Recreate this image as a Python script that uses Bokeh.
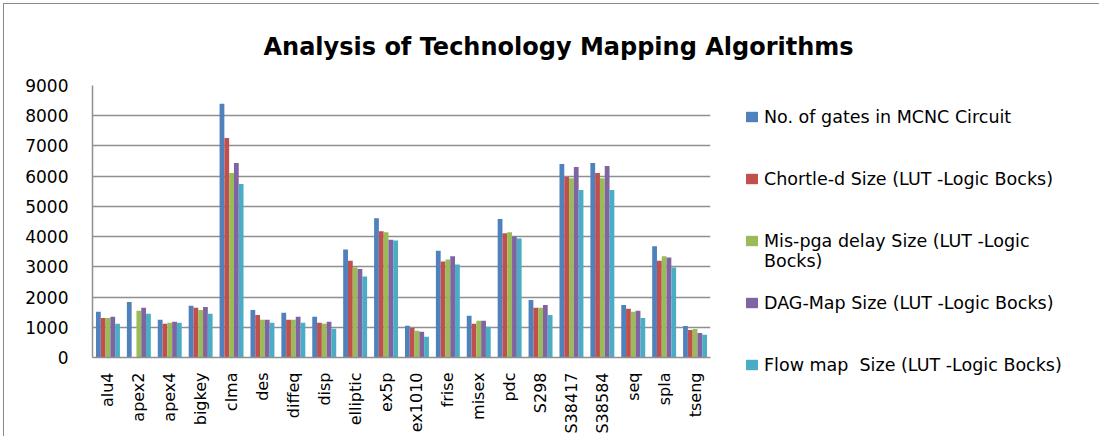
import math
from bokeh.plotting import figure
from bokeh.models import (FactorRange, ColumnDataSource, Legend, LegendItem,
                          FixedTicker, Range1d)
from bokeh.transform import dodge
from bokeh.embed import file_html
from bokeh.resources import INLINE

circuits = ["alu4", "apex2", "apex4", "bigkey", "clma", "des", "diffeq", "disp",
            "elliptic", "ex5p", "ex1010", "frise", "misex", "pdc", "S298",
            "S38417", "S38584", "seq", "spla", "tseng"]
gates = [1510, 1840, 1245, 1710, 8400, 1575, 1480, 1345, 3570, 4610,
         1050, 3535, 1380, 4585, 1905, 6405, 6435, 1740, 3680, 1045]
chortle = [1310, 0, 1115, 1645, 7265, 1410, 1245, 1150, 3205, 4180,
           980, 3175, 1115, 4110, 1645, 5975, 6105, 1610, 3205, 910]
mispga = [1310, 1545, 1150, 1575, 6105, 1245, 1245, 1115, 2990, 4145,
          885, 3240, 1215, 4145, 1645, 5930, 5930, 1510, 3350, 945]
dagmap = [1345, 1645, 1180, 1675, 6435, 1245, 1345, 1180, 2930, 3900,
          850, 3350, 1215, 4000, 1740, 6305, 6340, 1545, 3305, 810]
flowmap = [1115, 1445, 1150, 1445, 5740, 1150, 1150, 950, 2680, 3870,
           685, 3075, 1015, 3935, 1410, 5545, 5545, 1310, 2975, 755]

NB = "\u00a0"
series_names = [NB + "\nNo. of gates in MCNC Circuit\n" + NB,
                NB + "\nChortle-d Size (LUT -Logic Bocks)\n" + NB,
                NB + "\nMis-pga delay Size (LUT -Logic\nBocks)",
                NB + "\nDAG-Map Size (LUT -Logic Bocks)\n" + NB,
                NB + "\nFlow map  Size (LUT -Logic Bocks)\n" + NB]
colors = ["#4F81BD", "#C0504D", "#9BBB59", "#8064A2", "#4BACC6"]
y_ticks = [0, 1000, 2000, 3000, 4000, 5000, 6000, 7000, 8000, 9000]

FONT = "DejaVu Sans"

src = ColumnDataSource(dict(circuit=circuits, gates=gates, chortle=chortle,
                            mispga=mispga, dagmap=dagmap, flowmap=flowmap))

p = figure(x_range=FactorRange(factors=circuits, range_padding=0),
           y_range=Range1d(0, 9000),
           frame_width=618, frame_height=272,
           min_border_left=88, min_border_top=81,
           min_border_right=373, min_border_bottom=70,
           output_backend="svg", toolbar_location=None,
           outline_line_color=None, background_fill_color="white",
           border_fill_color="white",
           styles={"margin-left": "3px", "margin-top": "3px",
                   "border-top": "1px solid #8a8a8a",
                   "border-left": "1px solid #8a8a8a"},
           title="Analysis of Technology Mapping Algorithms")

p.title.align = "left"
p.title.offset = 171
p.title.standoff = 49
p.title.text_font = FONT
p.title.text_font_style = "bold"
p.title.text_font_size = "24px"
p.title.text_color = "#000000"

cols = ["gates", "chortle", "mispga", "dagmap", "flowmap"]
bw = 0.155
offsets = [-2 * bw, -bw, 0, bw, 2 * bw]
renderers = []
for col, off, c in zip(cols, offsets, colors):
    r = p.vbar(x=dodge("circuit", off, range=p.x_range), top=col, width=bw,
               source=src, fill_color=c, line_color=None)
    renderers.append(r)

p.xgrid.grid_line_color = None
p.ygrid.grid_line_color = "#8f8f8f"
p.ygrid.grid_line_width = 1.5

p.yaxis.ticker = FixedTicker(ticks=y_ticks)
p.yaxis.major_tick_line_color = None
p.yaxis.minor_tick_line_color = None
p.yaxis.major_tick_out = 0
p.yaxis.major_label_standoff = 24
p.yaxis.axis_line_color = "#8f8f8f"
p.yaxis.axis_line_width = 1.5
p.yaxis.major_label_text_font = FONT
p.yaxis.major_label_text_font_size = "17px"
p.yaxis.major_label_text_color = "#000000"

p.xaxis.major_tick_line_color = None
p.xaxis.minor_tick_line_color = None
p.xaxis.major_tick_out = 0
p.xaxis.major_label_standoff = 15
p.xaxis.major_label_orientation = math.pi / 2
p.xaxis.axis_line_color = "#8f8f8f"
p.xaxis.axis_line_width = 1.5
p.xaxis.major_label_text_font = FONT
p.xaxis.major_label_text_font_size = "16px"
p.xaxis.major_label_text_color = "#000000"

legend = Legend(items=[LegendItem(label=n, renderers=[r])
                       for n, r in zip(series_names, renderers)],
                location=(34, -38), padding=0, margin=0, spacing=1,
                glyph_width=15, glyph_height=13, label_height=61,
                label_standoff=5, label_text_font=FONT,
                label_text_font_size="17.5px",
                label_text_color="#000000",
                border_line_color=None, background_fill_alpha=0)
p.add_layout(legend, "right")

open("out.html", "w").write(file_html(p, INLINE))
